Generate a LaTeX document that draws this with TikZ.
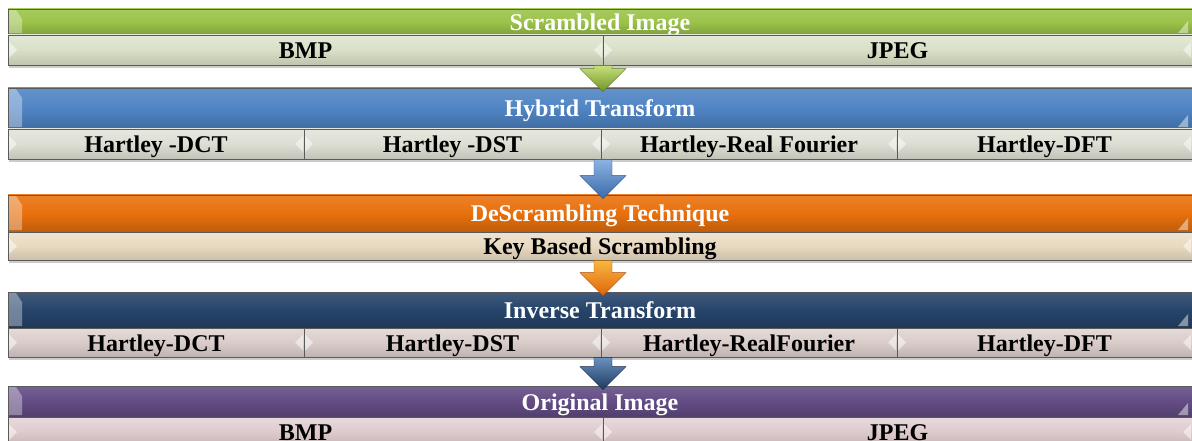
\documentclass[tikz,border=0pt]{standalone}
\usepackage{fontspec}
\setmainfont{Liberation Serif}
\usetikzlibrary{shadows,calc}
\definecolor{grnH}{HTML}{9BC34A}
\definecolor{grnS}{HTML}{D8E0C6}
\definecolor{grnL}{HTML}{C8E07A}
\definecolor{grnD}{HTML}{6F9428}
\definecolor{bluH}{HTML}{4F84C4}
\definecolor{bluS}{HTML}{DCDED2}
\definecolor{bluL}{HTML}{8DB3E2}
\definecolor{bluD}{HTML}{3A6AA8}
\definecolor{orgH}{HTML}{E8700C}
\definecolor{orgS}{HTML}{E8D9C0}
\definecolor{orgL}{HTML}{F7B840}
\definecolor{orgD}{HTML}{E0640A}
\definecolor{navH}{HTML}{26446A}
\definecolor{navS}{HTML}{D9CCC9}
\definecolor{navL}{HTML}{6A90C0}
\definecolor{navD}{HTML}{1F3A5F}
\definecolor{purH}{HTML}{634C84}
\definecolor{purS}{HTML}{DECACC}
\definecolor{edge}{HTML}{5A5A5A}
\tikzset{
 bar/.style={rectangle, inner sep=0pt, draw=edge, line width=0.7pt,
   font=\fontsize{24}{28}\selectfont\bfseries, text height=19pt, text depth=2pt,
   drop shadow={shadow xshift=1pt, shadow yshift=-3pt, opacity=.4}},
 hdr/.style={bar, text=white, minimum width=1184pt,
   top color=#1!88!white, bottom color=#1!82!black, middle color=#1,
   path picture={
     \fill[white,opacity=.35] ([shift={(1pt,-1pt)}]path picture bounding box.north west) -- ++(7pt,0pt) -- ++(6pt,-9pt)
        |- ([shift={(1pt,2pt)}]path picture bounding box.south west) -- cycle;
     \fill[white,opacity=.45] ([shift={(-4pt,2pt)}]path picture bounding box.south east) -- ++(-10pt,0pt) -- ++(10pt,12pt) -- cycle;
   }},
 cell/.style 2 args={bar, text=black, minimum height=30pt, minimum width=#2,
   top color=#1!70!white, bottom color=#1!88!black, middle color=#1,
   path picture={
     \fill[white,opacity=.5] ([shift={(1pt,8pt)}]path picture bounding box.west) -- ++(8pt,-8pt) -- ++(-8pt,-8pt) -- cycle;
     \fill[white,opacity=.5] ([shift={(-1pt,8pt)}]path picture bounding box.east) -- ++(-8pt,-8pt) -- ++(8pt,-8pt) -- cycle;
   }},
}
\newcommand\blockarrow[4]{% from point, to node, light, dark
  \path[draw=#4!75!black, line width=0.4pt, top color=#3, bottom color=#4]
   let \p1=#1, \p2=($(#2.north)+(3,4)$) in
   (\x2-9pt,\y1) -- (\x2+9pt,\y1) -- (\x2+9pt,\y2+23pt) -- (\x2+23pt,\y2+23pt)
   -- (\x2,\y2) -- (\x2-23pt,\y2+23pt) -- (\x2-9pt,\y2+23pt) -- cycle;}
\begin{document}
\begin{tikzpicture}[x=1pt,y=-1pt]
\useasboundingbox (0,0) rectangle (1192,441);
% row 1
\node[hdr=grnH, minimum height=26pt] (h1) at (600,22) {Scrambled Image};
\node[cell={grnS}{595pt}] (bmp1) at (305.5,50) {BMP};
\node[cell={grnS}{589pt}] (jpg1) at (897.5,50) {JPEG};
% row 2
\node[hdr=bluH, minimum height=41pt] (h2) at (600,108.5) {Hybrid Transform};
\node[cell={bluS}{296pt}] (t1) at (156,144) {Hartley -DCT};
\node[cell={bluS}{297pt}] (t2) at (452.5,144) {Hartley -DST};
\node[cell={bluS}{296pt}] (t3) at (749,144) {Hartley-Real Fourier};
\node[cell={bluS}{295pt}] (t4) at (1044.5,144) {Hartley-DFT};
% row 3
\node[hdr=orgH, minimum height=37pt] (h3) at (600,213.5) {DeScrambling Technique};
\node[cell={orgS}{1184pt}, minimum height=28pt] (k1) at (600,246) {Key Based Scrambling};
% row 4
\node[hdr=navH, minimum height=36pt] (h4) at (600,310) {Inverse Transform};
\node[cell={navS}{296pt}, minimum height=29pt] (i1) at (156,342.5) {Hartley-DCT};
\node[cell={navS}{297pt}, minimum height=29pt] (i2) at (452.5,342.5) {Hartley-DST};
\node[cell={navS}{296pt}, minimum height=29pt] (i3) at (749,342.5) {Hartley-RealFourier};
\node[cell={navS}{295pt}, minimum height=29pt] (i4) at (1044.5,342.5) {Hartley-DFT};
% row 5
\node[hdr=purH, minimum height=31pt] (h5) at (600,401.5) {Original Image};
\node[cell={purS}{595pt}] (bmp2) at (305.5,432) {BMP};
\node[cell={purS}{589pt}] (jpg2) at (897.5,432) {JPEG};
% arrows
\blockarrow{(bmp1.south east)}{h2}{grnL}{grnD}
\blockarrow{(t2.south east)}{h3}{bluL}{bluD}
\blockarrow{(k1.south)}{h4}{orgL}{orgD}
\blockarrow{(i2.south east)}{h5}{navL}{navD}
\end{tikzpicture}
\end{document}
